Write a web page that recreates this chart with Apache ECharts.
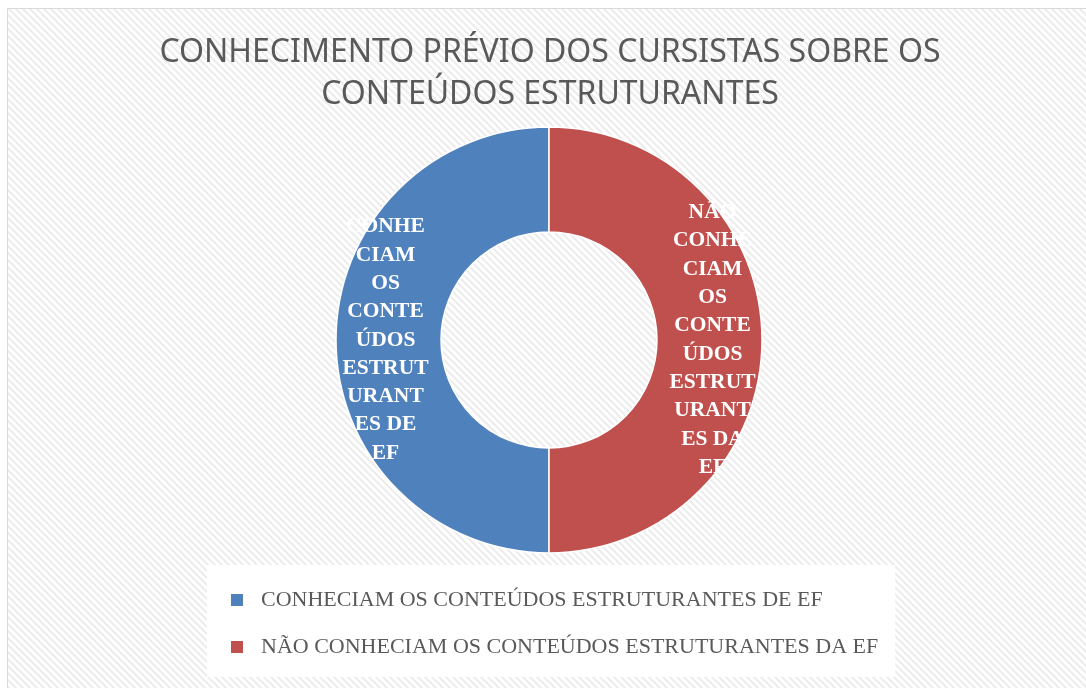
<!DOCTYPE html>
<html>
<head>
<meta charset="utf-8">
<script src="https://cdn.jsdelivr.net/npm/echarts@6/dist/echarts.min.js"></script>
<style>
html,body{margin:0;padding:0;background:#fff;}
#main{width:1086px;height:688px;}
</style>
</head>
<body>
<div id="main"></div>
<script>
// ---- data ----
const titleText = 'CONHECIMENTO PRÉVIO DOS CURSISTAS SOBRE OS\nCONTEÚDOS ESTRUTURANTES';
const categories = [
  'CONHECIAM OS CONTEÚDOS ESTRUTURANTES DE EF',
  'NÃO CONHECIAM OS CONTEÚDOS ESTRUTURANTES DA EF'
];
const values = [50, 50];
const sliceLabels = [
  'CONHE\nCIAM\nOS\nCONTE\nÚDOS\nESTRUT\nURANT\nES DE\nEF',
  'NÃO\nCONHE\nCIAM\nOS\nCONTE\nÚDOS\nESTRUT\nURANT\nES DA\nEF'
];
const colors = ['#4F81BD', '#C0504D'];

// hatch pattern
const pc = document.createElement('canvas');
pc.width = 7; pc.height = 7;
const g = pc.getContext('2d');
g.fillStyle = '#ffffff'; g.fillRect(0,0,7,7);
g.strokeStyle = '#ececec'; g.lineWidth = 2;
g.beginPath();
g.moveTo(-2,-2); g.lineTo(9,9);
g.moveTo(-9,-2); g.lineTo(2,9);
g.moveTo(5,-2); g.lineTo(16,9);
g.stroke();

const chart = echarts.init(document.getElementById('main'), null, {renderer:'canvas'});
chart.setOption({
  backgroundColor: '#ffffff',
  animation: false,
  color: colors,
  graphic: [{
    type: 'rect', z: -10, silent: true,
    shape: {x: 7.5, y: 8.5, width: 1090, height: 690},
    style: {fill: {image: pc, repeat: 'repeat'}, stroke: '#d9d9d9', lineWidth: 1}
  }],
  title: {
    text: titleText,
    left: 545,
    textAlign: 'center',
    top: 27,
    textStyle: {
      fontFamily: 'Noto Sans', fontWeight: 'normal', fontSize: 32,
      color: '#595959', lineHeight: 42
    }
  },
  legend: {
    orient: 'vertical',
    left: 207,
    top: 565,
    backgroundColor: '#ffffff',
    padding: [24, 17, 19, 22],
    itemGap: 25,
    itemWidth: 14,
    itemHeight: 14,
    icon: 'rect',
    textStyle: {fontFamily: 'Liberation Serif', fontSize: 22, color: '#595959', padding: [0,0,0,12]},
    data: categories
  },
  series: [{
    type: 'pie',
    center: [549, 340],
    radius: [108, 213],
    startAngle: 90,
    clockwise: false,
    itemStyle: {borderColor: '#ffffff', borderWidth: 1.5},
    label: {
      show: true,
      position: 'inside',
      formatter: p => sliceLabels[p.dataIndex],
      color: '#ffffff',
      fontFamily: 'Liberation Serif',
      fontWeight: 'bold',
      fontSize: 21.5,
      lineHeight: 28.3,
      align: 'center',
      padding: [4, 0, 0, 0]
    },
    labelLine: {show: false},
    emphasis: {disabled: true},
    data: categories.map((c, i) => ({name: c, value: values[i]}))
  }]
});
</script>
</body>
</html>
